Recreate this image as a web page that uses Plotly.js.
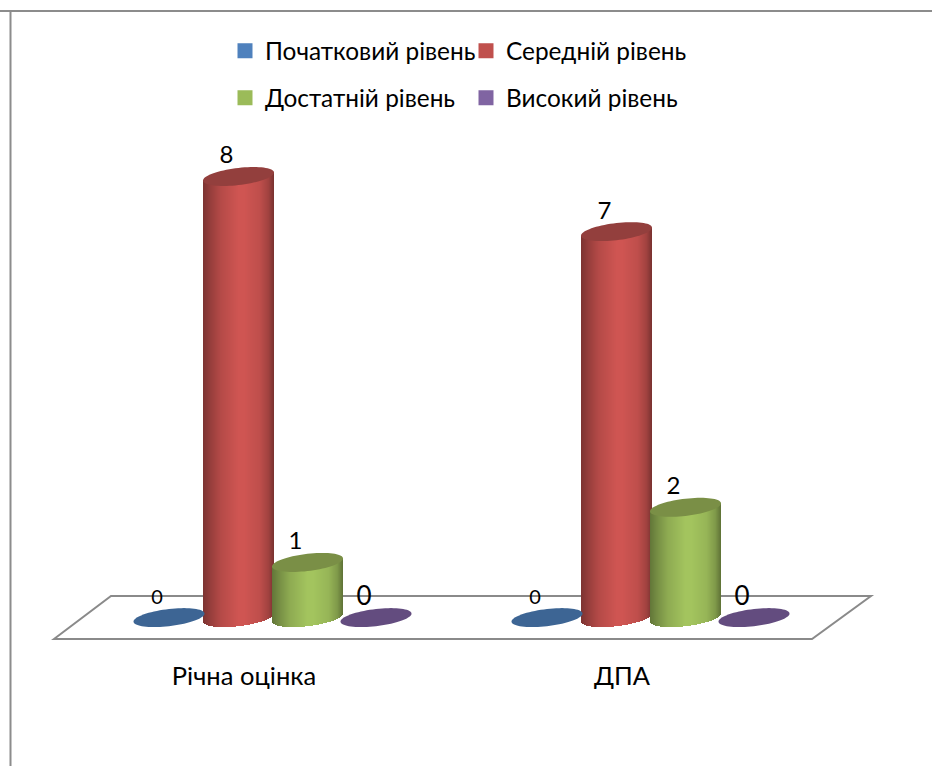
<!DOCTYPE html>
<html>
<head>
<meta charset="utf-8">
<script src="https://cdn.plot.ly/plotly-3.0.1.min.js"></script>
<style>html,body{margin:0;padding:0;background:#fff}</style>
</head>
<body>
<div id="chart" style="width:932px;height:766px"></div>
<script>
// Data
const categories = ["Річна оцінка", "ДПА"];
const seriesNames = ["Початковий рівень", "Середній рівень", "Достатній рівень", "Високий рівень"];
const initialLevel = [0, 0];
const mediumLevel = [8, 7];
const sufficientLevel = [1, 2];
const highLevel = [0, 0];

// Styles
const legendColors = ["#4F81BD", "#C0504D", "#9BBB59", "#8064A2"];
const bodyColors = [[79,129,189], [207,85,82], [163,196,94], [128,100,162]];
const capColors = ["#3D6594", "#933F3D", "#7A8F46", "#634C7F"];
const labelSizes = [[20, 24, 24, 26], [20, 24, 24, 26]];
const FONT = "Lato, 'Open Sans', 'Noto Sans', sans-serif";

// Layout scales: pixels per data unit
const W = 932, H = 766, PLOT_H = 656;
const UX = 378, UY = 55.14, X0PX = 244, Y0PX = 617.6;
const dxu = p => p / UX, dyu = p => p / UY;
const xRange = [-X0PX / UX, (W - X0PX) / UX];
const yRange = [(Y0PX - PLOT_H) / UY, Y0PX / UY];
const px2x = p => (p - X0PX) / UX, px2y = p => (Y0PX - p) / UY;

const groupOffsets = [-75, -5.5, 63.5, 132];
const allValues = [initialLevel, mediumLevel, sufficientLevel, highLevel];
const RX = 35.5, TILT = 4, RY = 8.6;

const shadeStops = [[0,.6],[.1,.72],[.25,.87],[.5,1],[.58,1],[.8,.92],[.92,.78],[1,.58]];
function shade(f) {
  for (let i = 1; i < shadeStops.length; i++) {
    if (f <= shadeStops[i][0]) {
      const a = shadeStops[i-1], b = shadeStops[i];
      return a[1] + (b[1]-a[1]) * (f-a[0]) / (b[0]-a[0]);
    }
  }
  return 1;
}
function ellipsePath(cx, cy) {
  let d = "";
  for (let i = 0; i < 72; i++) {
    const t = i / 72 * 2 * Math.PI;
    const x = cx + dxu(RX * Math.cos(t));
    const y = cy + dyu(TILT * Math.cos(t) + RY * Math.sin(t));
    d += (i ? "L" : "M") + x.toFixed(5) + "," + y.toFixed(5);
  }
  return d + "Z";
}

const traces = [], shapes = [];

// floor plane
const floor = [[54,639],[111,596],[871,596],[812,639]];
shapes.push({type:"path", xref:"x", yref:"y", layer:"below",
  path: floor.map((p,i)=>(i?"L":"M")+px2x(p[0]).toFixed(5)+","+px2y(p[1]).toFixed(5)).join("")+"Z",
  line:{color:"#8A8A8A", width:2}, fillcolor:"rgba(0,0,0,0)"});

// outer frame, running off the right and bottom edges
shapes.push({type:"line", xref:"paper", yref:"paper", x0:0, x1:1, y0:1-11/PLOT_H, y1:1-11/PLOT_H, line:{color:"#8C8C8C", width:2}});
shapes.push({type:"line", xref:"paper", yref:"paper", x0:10.5/W, x1:10.5/W, y0:1-10/PLOT_H, y1:(PLOT_H-H)/PLOT_H, line:{color:"#8C8C8C", width:2}});

seriesNames.forEach((name, s) => {
  const vals = allValues[s];
  const xs = categories.map((_, c) => c + dxu(groupOffsets[s]));
  // main bars (legend + value); the line enlarges the legend swatch
  traces.push({type:"bar", name, x:xs, y:vals, width:dxu(50),
    marker:{color:legendColors[s], line:{width:3, color:legendColors[s]}},
    legend: s < 2 ? "legend" : "legend2", hoverinfo:"name+y"});
  // cylinder shading strips
  const sx=[], sy=[], sb=[], sc=[], sw=[];
  vals.forEach((v, c) => {
    if (v <= 0) return;
    for (let i = 0; i < 71; i++) {
      const off = i + .5 - RX;
      const ct = off / RX;
      const sn = Math.sqrt(Math.max(0, 1 - ct*ct));
      const lower = dyu(TILT * ct - RY * sn);
      const upper = v + dyu(TILT * ct);
      sx.push(xs[c] + dxu(off));
      sb.push(lower);
      sy.push(upper - lower);
      sw.push(dxu(1.6));
      const k = shade((i + .5) / 71), col = bodyColors[s];
      sc.push(`rgb(${Math.round(col[0]*k)},${Math.round(col[1]*k)},${Math.round(col[2]*k)})`);
    }
  });
  if (sx.length) {
    traces.push({type:"bar", x:sx, y:sy, base:sb, width:sw, showlegend:false, hoverinfo:"skip",
      marker:{color:sc, line:{width:0}}});
  }
  // caps
  vals.forEach((v, c) => {
    shapes.push({type:"path", xref:"x", yref:"y", layer:"above",
      path: ellipsePath(xs[c], v), fillcolor: capColors[s], line:{width:0}});
  });
  // data labels
  traces.push({type:"scatter", mode:"text", x:xs.map(x=>x+dxu(-12)), y:vals.map(v=>v+dyu(19)),
    text:vals.map(String), textposition:"middle center", showlegend:false, hoverinfo:"skip",
    textfont:{family:FONT, size:categories.map((_,c)=>labelSizes[c][s]), color:"#000"}});
});

const layout = {
  width:W, height:H, autosize:false,
  margin:{l:0, r:0, t:0, b:H-PLOT_H, pad:0},
  paper_bgcolor:"#fff", plot_bgcolor:"#fff",
  barmode:"overlay", bargap:0,
  font:{family:FONT, color:"#000"},
  xaxis:{range:xRange, tickmode:"array", tickvals:categories.map((_,i)=>i), ticktext:categories,
    showgrid:false, zeroline:false, showline:false, ticks:"", fixedrange:true,
    tickfont:{family:FONT, size:25.5, color:"#000"}, ticklabelstandoff:2},
  yaxis:{range:yRange, visible:false, fixedrange:true},
  shapes,
  legend:{orientation:"h", x:225/W, xanchor:"left", y:1-51/PLOT_H, yanchor:"middle",
    entrywidth:196, entrywidthmode:"pixels", bgcolor:"rgba(0,0,0,0)", borderwidth:0,
    font:{family:FONT, size:24.4, color:"#000"}},
  legend2:{orientation:"h", x:225/W, xanchor:"left", y:1-98/PLOT_H, yanchor:"middle",
    entrywidth:196, entrywidthmode:"pixels", bgcolor:"rgba(0,0,0,0)", borderwidth:0,
    font:{family:FONT, size:24.4, color:"#000"}}
};
Plotly.newPlot("chart", traces, layout, {displayModeBar:false, staticPlot:true});
</script>
</body>
</html>
